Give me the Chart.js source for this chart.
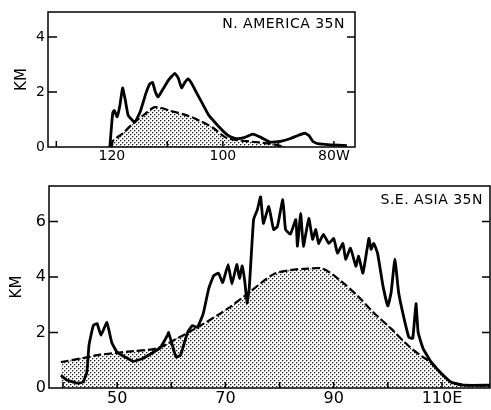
<!DOCTYPE html>
<html>
<head>
<meta charset="utf-8">
<script src="https://cdn.jsdelivr.net/npm/chart.js@4.4.1/dist/chart.umd.min.js"></script>
<style>
  body { margin: 0; background: #fff; }
  .panel { position: absolute; left: 0; }
  #naPanel { top: 0; }
  #asiaPanel { top: 170px; }
</style>
</head>
<body>
<div class="panel" id="naPanel"><canvas id="naChart" width="491" height="170"></canvas></div>
<div class="panel" id="asiaPanel"><canvas id="asiaChart" width="491" height="240"></canvas></div>
<script>
// N. America, 35N: height profile (km) against longitude (deg W)
var naLon = [120.36, 120.0, 119.82, 119.55, 119.05, 118.56, 118.07, 117.57, 117.06, 115.86,
  114.86, 113.87, 113.15, 112.67, 112.16, 111.66, 110.81, 109.73, 108.65, 108.02,
  107.44, 106.85, 106.25, 105.59, 104.68, 103.6, 102.52, 101.08, 99.82, 98.74,
  97.48, 96.04, 94.59, 93.15, 91.53, 89.73, 87.93, 86.49, 85.23, 84.5,
  83.78, 82.88, 80.72, 77.66];
var naKm = [0, 0.9, 1.25, 1.33, 1.1, 1.5, 2.15, 1.7, 1.15, 0.9,
  1.3, 1.95, 2.3, 2.35, 2.0, 1.82, 2.1, 2.45, 2.68, 2.5,
  2.15, 2.35, 2.48, 2.3, 1.95, 1.55, 1.15, 0.82, 0.55, 0.38,
  0.3, 0.35, 0.47, 0.35, 0.18, 0.2, 0.3, 0.42, 0.5, 0.42,
  0.2, 0.12, 0.08, 0.05];
// smoothed (stippled) profile
var naSmoothLon = [120.0, 119.82, 118.02, 116.22, 114.05, 112.25, 109.55, 106.49, 104.14, 101.8, 99.28, 95.14, 91.53, 88.83];
var naSmoothKm = [0, 0.22, 0.5, 0.85, 1.2, 1.45, 1.32, 1.15, 0.95, 0.7, 0.33, 0.2, 0.12, 0];
var naLonTicks = [130, 120, 110, 100, 90, 80];
var naLonLabels = ['', '120', '', '100', '', '80W'];
var naKmTicks = [0, 2, 4];

// S.E. Asia, 35N: height profile (km) against longitude (deg E)
var asiaLon = [39.6, 40.7, 42.6, 43.7, 44.4, 44.8, 45.6, 46.3, 47.0, 48.1,
  49.0, 50.0, 51.9, 53.0, 54.8, 56.7, 58.0, 59.3, 59.5, 60.2,
  60.9, 61.7, 63.0, 63.9, 64.8, 65.9, 66.9, 67.8, 68.7, 69.5,
  70.5, 71.2, 72.1, 72.6, 73.1, 73.6, 74.0, 74.4, 75.2, 75.9,
  76.5, 77.0, 78.0, 78.9, 79.6, 80.6, 81.1, 82.0, 83.0, 83.3,
  83.9, 84.4, 85.4, 86.1, 86.7, 87.2, 88.1, 89.1, 90.0, 90.7,
  91.7, 92.2, 93.1, 94.1, 94.6, 95.4, 96.5, 96.9, 97.4, 98.1,
  99.1, 100.0, 100.6, 101.3, 102.0, 103.0, 103.9, 104.6, 105.2, 105.6,
  106.5, 108.0, 109.8, 111.7, 114.1, 119.0];
var asiaKm = [0.46, 0.29, 0.18, 0.21, 0.57, 1.54, 2.25, 2.32, 1.9, 2.36,
  1.64, 1.29, 1.07, 0.96, 1.07, 1.29, 1.46, 1.9, 2.0, 1.54,
  1.11, 1.18, 2.0, 2.25, 2.18, 2.68, 3.57, 4.04, 4.14, 3.8,
  4.45, 3.75, 4.45, 3.95, 4.4, 3.8, 3.07, 3.6, 6.07, 6.43,
  6.89, 5.93, 6.54, 5.71, 5.82, 6.79, 5.71, 5.54, 6.07, 5.11,
  6.29, 5.11, 6.11, 5.36, 5.71, 5.21, 5.54, 5.21, 5.39, 4.86,
  5.21, 4.64, 5.04, 4.39, 4.75, 4.14, 5.39, 5.0, 5.21, 4.86,
  3.68, 2.96, 3.43, 4.64, 3.43, 2.5, 1.82, 1.79, 3.04, 2.0,
  1.43, 0.93, 0.54, 0.21, 0.1, 0.1];
var asiaSmoothLon = [39.6, 43.7, 46.9, 53.0, 57.4, 61.1, 65.4, 70.4, 74.1, 78.9,
  82.0, 85.2, 88.0, 91.3, 94.4, 97.4, 100.6, 103.7, 106.5, 108.0,
  109.8, 111.7, 114.1, 119.0];
var asiaSmoothKm = [0.93, 1.08, 1.2, 1.33, 1.43, 1.79, 2.25, 2.86, 3.4, 4.1,
  4.25, 4.3, 4.3, 3.86, 3.32, 2.71, 2.14, 1.54, 1.11, 0.93,
  0.54, 0.21, 0.1, 0.1];
var asiaLonTicks = [40, 50, 60, 70, 80, 90, 100, 110];
var asiaLonLabels = ['', '50', '', '70', '', '90', '', '110E'];
var asiaKmTicks = [0, 2, 4, 6];

var FONT = 'DejaVu Sans';

function pairs(xs, ys) {
  return xs.map(function (x, i) { return { x: x, y: ys[i] }; });
}

// dotted fill for the smoothed profile: soft dots on a diagonal grid
function stipple() {
  var tile = document.createElement('canvas');
  tile.width = 4; tile.height = 4;
  var g = tile.getContext('2d');
  g.fillStyle = '#fff';
  g.fillRect(0, 0, 4, 4);
  [[0, 0], [2, 2]].forEach(function (d) {
    g.fillStyle = '#b0b0b0';
    g.fillRect(d[0] + 1, d[1], 1, 1);
    g.fillRect(d[0], d[1] + 1, 1, 1);
    g.fillStyle = '#202020';
    g.fillRect(d[0], d[1], 1, 1);
  });
  return g.createPattern(tile, 'repeat');
}

// box round the plot, short inward tick marks and the region label
var frameTicks = {
  id: 'frameTicks',
  afterDraw: function (chart, args, opts) {
    var ctx = chart.ctx, a = chart.chartArea;
    var xs = chart.scales.x, ys = chart.scales.y;
    ctx.save();
    ctx.strokeStyle = '#000';
    ctx.lineWidth = 1.5;
    ctx.strokeRect(a.left, a.top, a.right - a.left, a.bottom - a.top);
    ctx.beginPath();
    xs.ticks.forEach(function (t) {
      var px = xs.getPixelForValue(t.value);
      ctx.moveTo(px, a.bottom);
      ctx.lineTo(px, a.bottom - 6);
    });
    ys.ticks.forEach(function (t) {
      if (t.value === 0) return;
      var py = ys.getPixelForValue(t.value);
      ctx.moveTo(a.left, py);
      ctx.lineTo(a.left + 9, py);
      ctx.moveTo(a.right, py);
      ctx.lineTo(a.right - 8, py);
    });
    ctx.stroke();
    ctx.fillStyle = '#000';
    ctx.font = opts.size + 'px "' + FONT + '"';
    ctx.letterSpacing = opts.spacing + 'px';
    ctx.textAlign = 'right';
    ctx.textBaseline = 'alphabetic';
    ctx.fillText(opts.text, a.right - opts.dx, a.top + opts.dy);
    ctx.restore();
  }
};

function makeProfile(id, p) {
  return new Chart(document.getElementById(id), {
    type: 'line',
    data: {
      datasets: [{
        data: pairs(p.lon, p.km),
        borderColor: '#000',
        borderWidth: 2.8,
        tension: 0.12,
        pointRadius: 0,
        fill: false
      }, {
        data: pairs(p.smoothLon, p.smoothKm),
        borderColor: '#000',
        borderWidth: 2.2,
        borderDash: [8, 3],
        tension: 0.3,
        pointRadius: 0,
        fill: 'origin',
        backgroundColor: stipple()
      }]
    },
    options: {
      responsive: false,
      animation: false,
      events: [],
      layout: { padding: p.padding },
      plugins: {
        legend: { display: false },
        tooltip: { enabled: false },
        frameTicks: p.label
      },
      scales: {
        x: {
          type: 'linear',
          reverse: p.reverse,
          min: p.xMin,
          max: p.xMax,
          afterBuildTicks: function (s) {
            s.ticks = p.lonTicks.map(function (v) { return { value: v }; });
          },
          afterFit: function (s) { s.height = p.xHeight; },
          grid: { display: false, drawTicks: false },
          border: { display: false },
          ticks: {
            autoSkip: false,
            maxRotation: 0,
            padding: 1,
            color: '#000',
            font: { family: FONT, size: p.tickSize },
            callback: function (v) { return p.lonLabels[p.lonTicks.indexOf(v)]; }
          }
        },
        y: {
          min: 0,
          max: p.yMax,
          afterBuildTicks: function (s) {
            s.ticks = p.kmTicks.map(function (v) { return { value: v }; });
          },
          afterFit: function (s) { s.width = p.yWidth; },
          grid: { display: false, drawTicks: false },
          border: { display: false },
          title: {
            display: true,
            text: 'KM',
            color: '#000',
            font: { family: FONT, size: 15 },
            padding: { top: p.titlePad, bottom: 0 }
          },
          ticks: {
            padding: 3,
            color: '#000',
            font: { family: FONT, size: p.tickSize }
          }
        }
      }
    },
    plugins: [frameTicks]
  });
}

makeProfile('naChart', {
  lon: naLon, km: naKm, smoothLon: naSmoothLon, smoothKm: naSmoothKm,
  lonTicks: naLonTicks, lonLabels: naLonLabels, kmTicks: naKmTicks,
  reverse: true, xMin: 76.2, xMax: 131.5, yMax: 4.91,
  padding: { top: 12, right: 136, left: 0, bottom: 0 },
  xHeight: 23, yWidth: 48, tickSize: 14, titlePad: 13,
  label: { text: 'N. AMERICA 35N', size: 14, spacing: 0.5, dx: 10, dy: 16 }
});

makeProfile('asiaChart', {
  lon: asiaLon, km: asiaKm, smoothLon: asiaSmoothLon, smoothKm: asiaSmoothKm,
  lonTicks: asiaLonTicks, lonLabels: asiaLonLabels, kmTicks: asiaKmTicks,
  reverse: false, xMin: 37.41, xMax: 118.87, yMax: 7.28,
  padding: { top: 16, right: 1, left: 0, bottom: 0 },
  xHeight: 22, yWidth: 49, tickSize: 16, titlePad: 8.5,
  label: { text: 'S.E. ASIA 35N', size: 14, spacing: 0.5, dx: 7, dy: 18 }
});
</script>
</body>
</html>
